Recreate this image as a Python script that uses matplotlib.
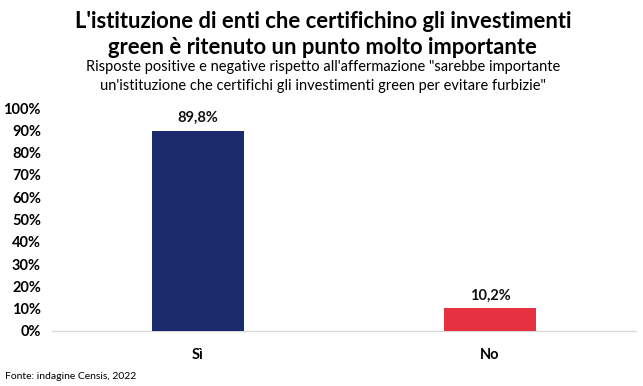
import matplotlib
matplotlib.use("Agg")
import matplotlib.pyplot as plt

# dati
categorie = ["Sì", "No"]
valori = [89.8, 10.2]
etichette = ["89,8%", "10,2%"]
colori = ["#1B2A6B", "#E63140"]
yticks = list(range(0, 101, 10))

plt.rcParams['font.family'] = ['Lato', 'DejaVu Sans']

fig = plt.figure(figsize=(6.43, 3.86), dpi=100)
ax = fig.add_axes([0.081, 0.1425, 0.908, 0.5775])

x = range(len(categorie))
ax.bar(x, valori, width=0.315, color=colori, zorder=3)

for xi, v, lab in zip(x, valori, etichette):
    ax.text(xi, v + 2.5, lab, ha="center", va="bottom",
            fontsize=10.5, fontweight="bold", color="#111111")

ax.set_xlim(-0.5, 1.5)
ax.set_ylim(0, 100)
ax.set_yticks(yticks)
ax.set_yticklabels([f"{t}%" for t in yticks], fontsize=10.5, fontweight="bold")
ax.set_xticks(list(x))
ax.set_xticklabels(categorie, fontsize=10.5, fontweight="bold")
ax.tick_params(axis="both", length=0, pad=8)
ax.tick_params(axis="x", pad=12)

for s in ["top", "right", "left"]:
    ax.spines[s].set_visible(False)
ax.spines["bottom"].set_color("#D9D9D9")
ax.spines["bottom"].set_linewidth(1)

# titoli
fig.text(0.502, 0.945, "L'istituzione di enti che certifichino gli investimenti",
         ha="center", va="center", fontsize=15.8, fontweight="bold")
fig.text(0.502, 0.878, "green è ritenuto un punto molto importante",
         ha="center", va="center", fontsize=15.8, fontweight="bold")
fig.text(0.502, 0.826, "Risposte positive e negative rispetto all'affermazione \"sarebbe importante",
         ha="center", va="center", fontsize=10.5)
fig.text(0.502, 0.776, "un'istituzione che certifichi gli investimenti green per evitare furbizie\"",
         ha="center", va="center", fontsize=10.5)

fig.text(0.008, 0.025, "Fonte: indagine Censis, 2022", ha="left", va="center", fontsize=7.5)

fig.savefig("out.png", dpi=100, facecolor="white")
